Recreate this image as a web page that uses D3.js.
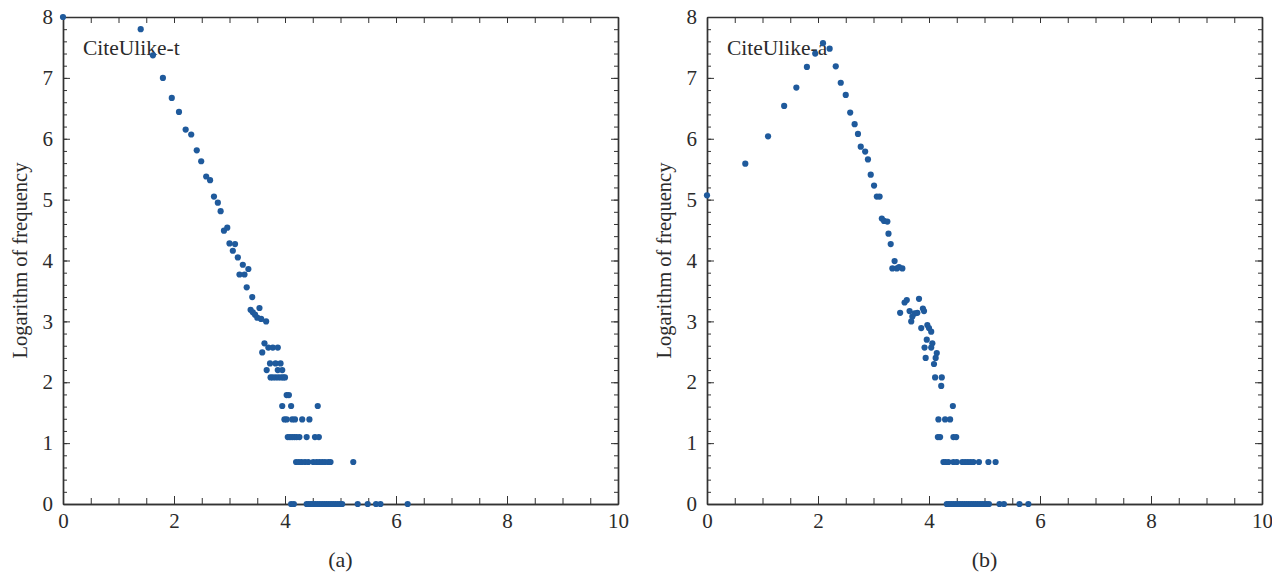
<!DOCTYPE html>
<html>
<head>
<meta charset="utf-8">
<script src="https://cdn.jsdelivr.net/npm/d3@7"></script>
<style>
  body { margin: 0; background: #fff; }
  text { font-family: "Liberation Serif", "DejaVu Serif", serif; fill: #2b2b2b; }
</style>
</head>
<body>
<svg width="1272" height="572"></svg>
<script>
// CiteUlike-t: log(x) vs log(frequency)
const tX = [0, 1.40, 1.62, 1.80, 1.96, 2.09, 2.21, 2.31, 2.41, 2.49, 2.58, 2.65, 2.72, 2.79, 2.84, 2.90, 2.96, 3.00, 3.06, 3.10,
  3.15, 3.18, 3.24, 3.27, 3.34, 3.31, 3.41, 3.38, 3.42, 3.46, 3.54, 3.50, 3.57, 3.66,
  3.63, 3.59, 3.70, 3.78, 3.87,
  3.73, 3.83, 3.92, 3.67, 3.87, 3.95,
  3.74, 3.78, 3.83, 3.88, 3.93, 3.97, 4.00,
  4.03, 4.07,
  3.95, 4.11, 4.59,
  3.99, 4.03, 4.13, 4.18, 4.31, 4.44,
  4.05, 4.09, 4.13, 4.17, 4.21, 4.26, 4.39, 4.54, 4.61,
  4.20, 4.25, 4.30, 4.36, 4.42, 4.51, 4.57, 4.62, 4.67, 4.72, 4.78, 4.82, 5.23,
  4.11, 4.16, 4.39, 4.43, 4.47, 4.51, 4.55, 4.59, 4.63, 4.67, 4.71, 4.75, 4.79, 4.83, 4.87, 4.91, 4.95, 4.99, 5.03,
  5.31, 5.49, 5.64, 5.72, 6.21];
const tY = [8.00, 7.80, 7.37, 7.00, 6.67, 6.44, 6.15, 6.07, 5.81, 5.63, 5.38, 5.32, 5.05, 4.95, 4.81, 4.49, 4.54, 4.28, 4.16, 4.27,
  4.05, 3.77, 3.93, 3.77, 3.86, 3.56, 3.40, 3.19, 3.15, 3.11, 3.22, 3.06, 3.04, 3.00,
  2.64, 2.49, 2.57, 2.57, 2.57,
  2.31, 2.31, 2.31, 2.20, 2.20, 2.20,
  2.08, 2.08, 2.08, 2.08, 2.08, 2.08, 2.08,
  1.79, 1.79,
  1.61, 1.61, 1.61,
  1.39, 1.39, 1.39, 1.39, 1.39, 1.39,
  1.10, 1.10, 1.10, 1.10, 1.10, 1.10, 1.10, 1.10, 1.10,
  0.69, 0.69, 0.69, 0.69, 0.69, 0.69, 0.69, 0.69, 0.69, 0.69, 0.69, 0.69, 0.69,
  0, 0, 0, 0, 0, 0, 0, 0, 0, 0, 0, 0, 0, 0, 0, 0, 0, 0, 0,
  0, 0, 0, 0, 0];

// CiteUlike-a
const aX = [0, 0.69, 1.10, 1.39, 1.61, 1.80, 1.95, 2.09, 2.21, 2.32, 2.41, 2.50, 2.58, 2.66, 2.72, 2.77, 2.85, 2.90, 2.95, 3.01,
  3.06, 3.11, 3.15, 3.19, 3.25, 3.27, 3.31, 3.38, 3.34, 3.42, 3.46, 3.52,
  3.56, 3.60, 3.82, 3.48, 3.65, 3.70, 3.68, 3.74, 3.79, 3.89, 3.91, 3.86, 3.97, 4.00, 4.04, 3.96, 3.92, 4.04, 4.06,
  4.14, 4.12, 3.94, 4.09, 4.11, 4.23, 4.22, 4.43,
  4.17, 4.29, 4.38, 4.16, 4.20, 4.44, 4.49,
  4.26, 4.30, 4.35, 4.44, 4.50, 4.60, 4.65, 4.70, 4.75, 4.80, 4.90, 5.07, 5.20,
  4.32, 4.36, 4.40, 4.44, 4.48, 4.52, 4.56, 4.60, 4.64, 4.68, 4.72, 4.76, 4.80, 4.84, 4.88, 4.92, 4.96, 5.00, 5.04, 5.08,
  5.27, 5.35, 5.63, 5.79];
const aY = [5.07, 5.59, 6.04, 6.54, 6.84, 7.18, 7.40, 7.57, 7.48, 7.19, 6.92, 6.72, 6.43, 6.24, 6.08, 5.87, 5.79, 5.66, 5.41, 5.23,
  5.05, 5.05, 4.69, 4.65, 4.64, 4.44, 4.27, 3.99, 3.87, 3.87, 3.89, 3.87,
  3.31, 3.35, 3.37, 3.14, 3.17, 3.08, 3.00, 3.13, 3.14, 3.21, 3.17, 2.89, 2.94, 2.89, 2.83, 2.70, 2.57, 2.57, 2.64,
  2.48, 2.40, 2.40, 2.30, 2.08, 2.08, 1.94, 1.61,
  1.39, 1.39, 1.39, 1.10, 1.10, 1.10, 1.10,
  0.69, 0.69, 0.69, 0.69, 0.69, 0.69, 0.69, 0.69, 0.69, 0.69, 0.69, 0.69, 0.69,
  0, 0, 0, 0, 0, 0, 0, 0, 0, 0, 0, 0, 0, 0, 0, 0, 0, 0, 0, 0,
  0, 0, 0, 0];

const xTicks = [0, 2, 4, 6, 8, 10];
const yTicks = [0, 1, 2, 3, 4, 5, 6, 7, 8];

const svg = d3.select("svg");
const axisColor = "#333";
const dotColor = "#1f5a9c";

function drawPanel(left, xs, ys, name, caption) {
  const x = d3.scaleLinear().domain([0, 10]).range([left, left + 555]);
  const y = d3.scaleLinear().domain([0, 8]).range([504, 17]);
  const g = svg.append("g");

  const minorX = d3.range(0, 10.01, 0.5);
  const minorY = d3.range(0, 8.01, 0.2);

  // bottom axis with labels, ticks pointing in
  g.append("g").attr("transform", `translate(0,${y(0)})`)
    .call(d3.axisBottom(x).tickValues(xTicks).tickSizeInner(-8).tickSizeOuter(0).tickPadding(9).tickFormat(d3.format("d")));
  g.append("g").attr("transform", `translate(0,${y(0)})`)
    .call(d3.axisBottom(x).tickValues(minorX.filter(v => v % 2 !== 0)).tickSizeInner(-6).tickSizeOuter(0).tickFormat(""));
  g.append("g").attr("transform", `translate(0,${y(8)})`)
    .call(d3.axisTop(x).tickValues(minorX).tickSizeInner(-6).tickSizeOuter(0).tickFormat(""));

  g.append("g").attr("transform", `translate(${x(0)},0)`)
    .call(d3.axisLeft(y).tickValues(yTicks).tickSizeInner(-7).tickSizeOuter(0).tickPadding(10).tickFormat(d3.format("d")));
  g.append("g").attr("transform", `translate(${x(0)},0)`)
    .call(d3.axisLeft(y).tickValues(minorY).tickSizeInner(-4).tickSizeOuter(0).tickFormat(""));
  g.append("g").attr("transform", `translate(${x(10)},0)`)
    .call(d3.axisRight(y).tickValues(minorY).tickSizeInner(-4).tickSizeOuter(0).tickFormat(""));
  g.append("g").attr("transform", `translate(${x(10)},0)`)
    .call(d3.axisRight(y).tickValues(yTicks).tickSizeInner(-7).tickSizeOuter(0).tickFormat(""));

  g.selectAll(".domain").attr("stroke", axisColor).attr("stroke-width", 1.4);
  g.selectAll(".tick line").attr("stroke", axisColor).attr("stroke-width", 1);
  g.selectAll(".tick text").attr("font-size", 21).attr("fill", "#2b2b2b")
    .attr("font-family", "Liberation Serif, DejaVu Serif, serif");

  g.append("text")
    .attr("transform", `translate(${left - 36},${y(4)}) rotate(-90)`)
    .attr("text-anchor", "middle")
    .attr("font-size", 20.5)
    .text("Logarithm of frequency");

  g.append("text")
    .attr("x", left + 20).attr("y", 55)
    .attr("font-size", 21.5)
    .text(name);

  g.append("text")
    .attr("x", x(5)).attr("y", 567)
    .attr("text-anchor", "middle")
    .attr("font-size", 22)
    .text(caption);

  g.append("g").selectAll("circle")
    .data(xs.map((v, i) => [v, ys[i]]))
    .join("circle")
    .attr("cx", d => x(d[0]))
    .attr("cy", d => y(d[1]))
    .attr("r", 3.1)
    .attr("fill", dotColor);
}

drawPanel(63, tX, tY, "CiteUlike-t", "(a)");
drawPanel(707, aX, aY, "CiteUlike-a", "(b)");
</script>
</body>
</html>
